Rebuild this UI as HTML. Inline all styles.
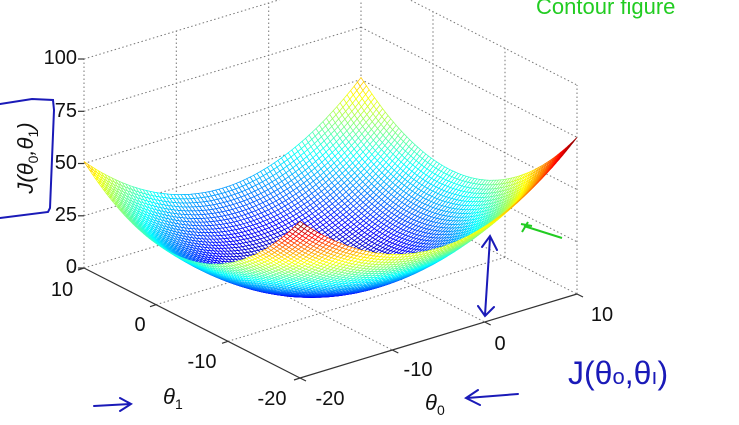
<!DOCTYPE html>
<html><head><meta charset="utf-8">
<style>
html,body{margin:0;padding:0;background:#fff;}
svg{display:block;}
text{font-family:"Liberation Sans",sans-serif;}
</style></head>
<body>
<svg id="s" width="739" height="425" viewBox="0 0 739 425" xmlns="http://www.w3.org/2000/svg">
<g id="grid" stroke="#777" stroke-width="1" stroke-dasharray="1.5,2.5" fill="none"></g>
<g id="axes" stroke="#333" stroke-width="1.2" fill="none"></g>
<g id="mesh" fill="#fff" stroke-width="0.75"></g>
<g font-size="20" fill="#111" text-anchor="end">
<text x="77" y="64">100</text><text x="77" y="117">75</text><text x="77" y="169">50</text><text x="77" y="221">25</text><text x="77" y="273">0</text>
</g>
<g font-size="20" fill="#111" text-anchor="middle">
<text x="62" y="296">10</text><text x="140" y="331">0</text><text x="202" y="368">-10</text><text x="272" y="405">-20</text>
<text x="330" y="405">-20</text><text x="418" y="376">-10</text><text x="500" y="350">0</text><text x="602" y="321">10</text>
</g>
<text x="163" y="404" font-family="Liberation Serif,serif" font-style="italic" font-size="22" fill="#111">θ<tspan font-size="14" dy="5" font-style="normal">1</tspan></text>
<text x="425" y="410" font-family="Liberation Serif,serif" font-style="italic" font-size="22" fill="#111">θ<tspan font-size="14" dy="5" font-style="normal">0</tspan></text>
<text transform="translate(33,158) rotate(-90)" text-anchor="middle" font-family="Liberation Serif,serif" font-style="italic" font-size="22" fill="#111">J(θ<tspan font-size="14" dy="5" font-style="normal">0</tspan><tspan dy="-5">,θ</tspan><tspan font-size="14" dy="5" font-style="normal">1</tspan><tspan dy="-5">)</tspan></text>
<g stroke="#1a1ab8" stroke-width="2" fill="none" stroke-linecap="round">
<polyline points="0,104 32,99 53,100 54,110 50,208 48,212 0,218"/>
<path d="M490,238 L485,315 M482,247 L490,236 L497,250 M478,306 L485,316 L494,307"/>
<path d="M94,406 Q112,405 130,404 M120,398 L131,404 L120,411"/>
<path d="M467,398 L518,394 M478,390 L466,398 L480,405"/>
</g>
<text x="568" y="384" font-size="32" fill="#1a1ab8" font-family="DejaVu Sans,sans-serif">J(θ<tspan font-size="22">o</tspan>,θ<tspan font-size="22">ı</tspan>)</text>
<text x="536" y="14" font-size="22" fill="#22cc22" font-family="DejaVu Sans,sans-serif">Contour figure</text>
<path d="M522,232 L528,222 M521,224 L532,226 M524,226 L562,238" stroke="#22cc22" stroke-width="2" fill="none"/>
</svg>
<script>
(function(){
var NS="http://www.w3.org/2000/svg";
var A=[84,268],B=[300,378],C=[577,294];
var e0=[(C[0]-B[0])/30,(C[1]-B[1])/30];
var e1=[(A[0]-B[0])/30,(A[1]-B[1])/30];
var zs=2.09;
function P(t0,t1,z){return [B[0]+(t0+20)*e0[0]+(t1+20)*e1[0], B[1]+(t0+20)*e0[1]+(t1+20)*e1[1]-z*zs];}
function line(g,p,q){var l=document.createElementNS(NS,"line");l.setAttribute("x1",p[0].toFixed(1));l.setAttribute("y1",p[1].toFixed(1));l.setAttribute("x2",q[0].toFixed(1));l.setAttribute("y2",q[1].toFixed(1));g.appendChild(l);return l;}
var grid=document.getElementById("grid");
[0,25,50,75,100].forEach(function(z){line(grid,P(-20,10,z),P(10,10,z));line(grid,P(10,10,z),P(10,-20,z));});
[-20,-10,0,10].forEach(function(t){line(grid,P(t,10,0),P(t,10,100));});
[0,-10,-20].forEach(function(t){line(grid,P(10,t,0),P(10,t,100));});
[-10,0].forEach(function(t){line(grid,P(t,10,0),P(t,-20,0));});
[0,-10].forEach(function(t){line(grid,P(-20,t,0),P(10,t,0));});
var ax=document.getElementById("axes");
line(ax,P(-20,10,0),P(-20,-20,0));line(ax,P(-20,-20,0),P(10,-20,0));
[10,0,-10,-20].forEach(function(t){var p=P(-20,t,0);line(ax,p,[p[0]-6,p[1]+2]);});
[-20,-10,0,10].forEach(function(t){var p=P(t,-20,0);line(ax,p,[p[0]+6,p[1]+3]);});
[0,25,50,75,100].forEach(function(z){var p=P(-20,10,z);line(ax,p,[p[0]-6,p[1]]);});
function J(a,b){return 0.146*(a+5)*(a+5)+0.148*(b+2.3)*(b+2.3)-4.3;}
var N=80,st=30/N,zmin=-4.3,zmax=75;
function jet(v){var x=(v-zmin)/(zmax-zmin);x=Math.max(0,Math.min(1,x));
function c(t){return Math.round(255*Math.max(0,Math.min(1,1.5-Math.abs(t))));}
return "rgb("+c(4*x-3)+","+c(4*x-2)+","+c(4*x-1)+")";}
var quads=[];
for(var i=0;i<N;i++)for(var j=0;j<N;j++){
var a0=-20+i*st,a1=a0+st,b0=-20+j*st,b1=b0+st;
var z1=J(a0,b0),z2=J(a1,b0),z3=J(a1,b1),z4=J(a0,b1);
var zc=(z1+z2+z3+z4)/4,ac=(a0+a1)/2,bc=(b0+b1)/2;
var d=54*zc-15*ac-19.3*bc;
quads.push([d,[P(a0,b0,z1),P(a1,b0,z2),P(a1,b1,z3),P(a0,b1,z4)],zc]);}
quads.sort(function(x,y){return x[0]-y[0];});
var mesh=document.getElementById("mesh");
quads.forEach(function(q){var p=document.createElementNS(NS,"polygon");
p.setAttribute("points",q[1].map(function(v){return v[0].toFixed(1)+","+v[1].toFixed(1);}).join(" "));
p.setAttribute("stroke",jet(q[2]));mesh.appendChild(p);});
})();
</script>
</body></html>
